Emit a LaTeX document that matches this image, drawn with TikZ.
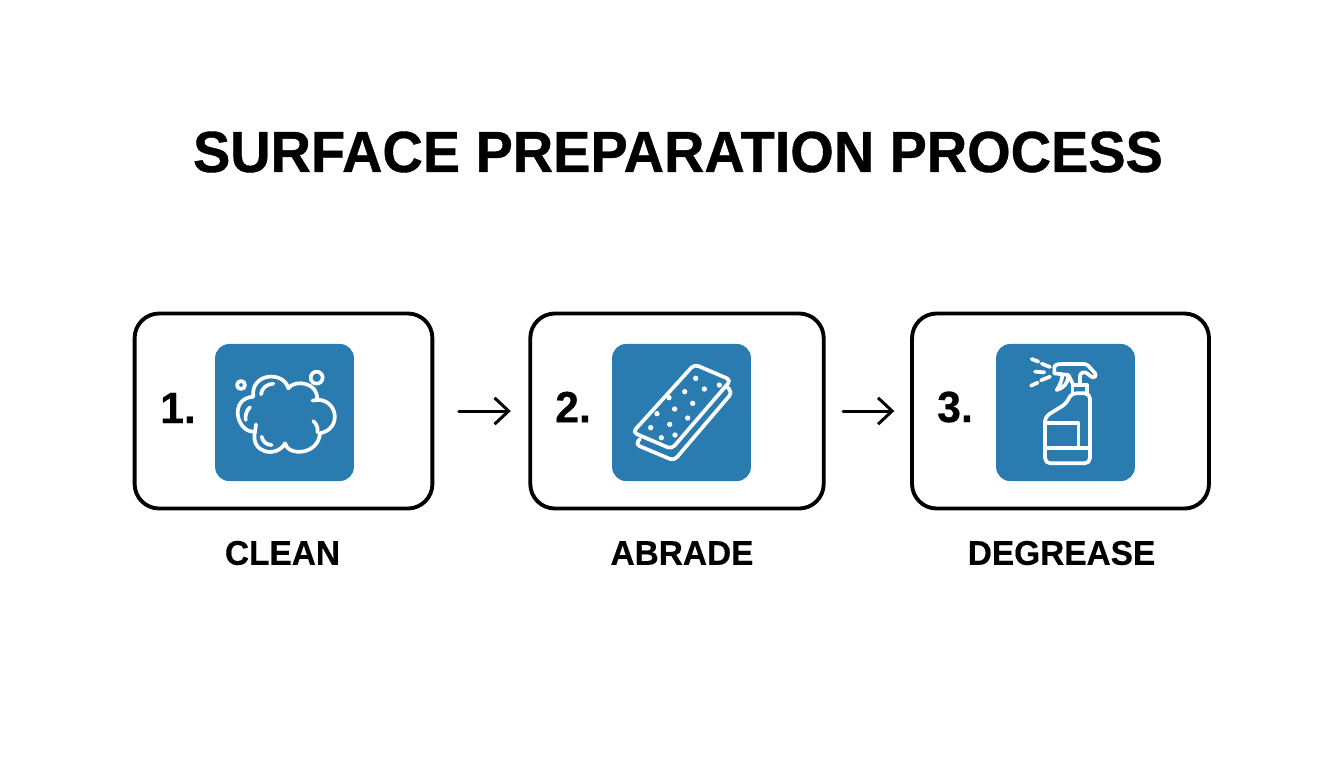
\documentclass[tikz,border=0pt]{standalone}
\usepackage{fontspec}
\setmainfont{Liberation Sans}
\newfontfamily\titlefont[FakeStretch=0.964,FakeBold=0.7]{Liberation Sans Bold}
\newfontfamily\namefont[FakeStretch=0.975,FakeBold=0.4]{Liberation Sans Bold}
\usetikzlibrary{arrows.meta}
\definecolor{tileblue}{HTML}{2A7BAF}
\tikzset{
  stepbox/.style={draw=black,line width=2.2pt,rounded corners=14pt,minimum width=#1,minimum height=111pt,inner sep=0pt},
  tilebox/.style={fill=tileblue,rounded corners=8pt,minimum width=79pt,minimum height=78pt,inner sep=0pt},
  numtext/.style={font=\namefont\fontsize{25}{25}\selectfont},
  captext/.style={font=\namefont\fontsize{19.5}{20}\selectfont},
  flowarrow/.style={-{Straight Barb[length=8pt,width=15pt]},line width=1.7pt,line cap=round},
  iconline/.style={draw=white,line width=2.1pt,line cap=round,line join=round},
  zoomed/.style={shift={#1},x=0.00667cm,y=-0.00667cm}
}
\begin{document}
\begin{tikzpicture}[x=0.02cm,y=-0.02cm]
\useasboundingbox (0,0) rectangle (1344,768);
\node[font=\titlefont\fontsize{33}{33}\selectfont] (title) at (678,152) {SURFACE PREPARATION PROCESS};
% the three boxes
\node[stepbox=169.5pt] (clean) at (283.5,411) {};
\node[stepbox=167pt] (abrade) at (677,411) {};
\node[stepbox=169pt] (degrease) at (1060.5,411) {};
\node[tilebox] (cleantile) at (284.5,412.5) {};
\node[tilebox] (abradetile) at (681.5,412.5) {};
\node[tilebox] (degreasetile) at (1065.5,412.5) {};
\node[numtext] (one) at (178,408) {1.};
\node[numtext] (two) at (573,407) {2.};
\node[numtext] (three) at (955,407) {3.};
\node[captext] (cleanname) at (282.5,553) {CLEAN};
\node[captext] (abradename) at (682,553) {ABRADE};
\node[captext] (degreasename) at (1061.5,553) {DEGREASE};
\draw[flowarrow,shorten <=14pt,shorten >=10pt] (clean) -- (abrade);
\draw[flowarrow,shorten <=10pt,shorten >=9pt] (abrade) -- (degrease);
% cloud
\begin{scope}[zoomed={(205,335)}]
\draw[iconline] (145,185) .. controls (135,115) and (235,105) .. (250,160)
  .. controls (270,130) and (345,145) .. (335,195)
  .. controls (395,190) and (415,280) .. (345,295)
  .. controls (340,360) and (250,365) .. (240,325)
  .. controls (215,370) and (135,355) .. (150,290)
  .. controls (95,295) and (70,190) .. (145,185);
\draw[iconline] (168,178) .. controls (170,160) and (185,147) .. (205,146);
\draw[iconline] (122,255) .. controls (120,240) and (125,225) .. (135,217);
\draw[iconline] (153,268) -- (150,290);
\draw[iconline] (170,305) .. controls (173,320) and (185,330) .. (200,330);
\draw[iconline] (325,258) .. controls (335,268) and (340,280) .. (337,292);
\draw[iconline] (335,195) -- (322,197);
\draw[iconline] (108,150) circle (12);
\draw[iconline] (335,128) circle (18);
\end{scope}
% sandpaper
\begin{scope}[zoomed={(600,335)}]
\draw[iconline,rounded corners=2.5pt] (283,88) -- (393,135) -- (215,342) -- (98,292) -- cycle;
\draw[iconline,rounded corners=2.5pt] (380,155) -- (397,172) -- (222,377) -- (106,328) -- (120,312);
\foreach \px/\py in {287/130,358/150,313/162,254/170,207/188,278/205,224/222,171/236,263/249,209/268,152/278,184/308,225/300}
  \fill[white] (\px,\py) circle (8);
\end{scope}
% spray bottle
\begin{scope}[zoomed={(985,335)}]
\draw[iconline,rounded corners=3pt] (258,175) -- (245,205) -- (180,245) -- (180,385) -- (315,385) -- (315,175) -- cycle;
\draw[iconline] (262,175) -- (262,150) -- (305,150) -- (305,175);
\draw[iconline] (182,265) -- (280,265) -- (280,338) -- (182,338);
\draw[iconline] (280,338) -- (313,338);
\draw[iconline,rounded corners=1.5pt] (208,115) -- (208,90) -- (225,87) -- (305,87) -- (335,120) -- (325,130) -- (300,110) -- (285,115) -- (285,148);
\draw[iconline] (208,115) -- (250,120) -- (265,150);
\draw[iconline] (232,122) .. controls (230,140) and (222,155) .. (215,165) .. controls (235,160) and (248,145) .. (250,125);
\draw[iconline] (140,72) -- (160,80);
\draw[iconline] (170,86) -- (195,96);
\draw[iconline] (150,110) -- (178,112);
\draw[iconline] (168,136) -- (195,125);
\draw[iconline] (138,152) -- (158,143);
\end{scope}
\end{tikzpicture}
\end{document}
